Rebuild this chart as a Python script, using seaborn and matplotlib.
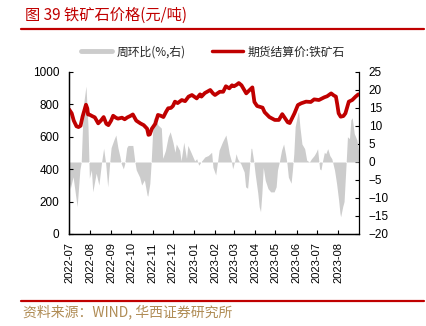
import matplotlib
matplotlib.use("Agg")
import matplotlib.pyplot as plt
from matplotlib.lines import Line2D
import seaborn as sns
import pandas as pd

# ---------------- data ----------------
price_dates = [
    "2022-07-01", "2022-07-05", "2022-07-08", "2022-07-12", "2022-07-15", "2022-07-18",
    "2022-07-21", "2022-07-26", "2022-07-28", "2022-07-29", "2022-08-01", "2022-08-04",
    "2022-08-08", "2022-08-13", "2022-08-17", "2022-08-21", "2022-08-25", "2022-08-28",
    "2022-09-01", "2022-09-04", "2022-09-08", "2022-09-11", "2022-09-17", "2022-09-21",
    "2022-09-25", "2022-09-29", "2022-10-03", "2022-10-08", "2022-10-14", "2022-10-19",
    "2022-10-24", "2022-10-26", "2022-10-28", "2022-10-31", "2022-11-05", "2022-11-09",
    "2022-11-13", "2022-11-17", "2022-11-21", "2022-11-24", "2022-11-28", "2022-12-01",
    "2022-12-04", "2022-12-08", "2022-12-14", "2022-12-19", "2022-12-24", "2022-12-29",
    "2023-01-05", "2023-01-10", "2023-01-12", "2023-01-17", "2023-01-25", "2023-01-29",
    "2023-02-01", "2023-02-08", "2023-02-13", "2023-02-17", "2023-02-22", "2023-02-26",
    "2023-03-01", "2023-03-05", "2023-03-08", "2023-03-12", "2023-03-19", "2023-03-24",
    "2023-03-28", "2023-03-31", "2023-04-04", "2023-04-12", "2023-04-15", "2023-04-22",
    "2023-04-30", "2023-05-06", "2023-05-11", "2023-05-19", "2023-05-22", "2023-05-29",
    "2023-06-03", "2023-06-08", "2023-06-15", "2023-06-22", "2023-06-27", "2023-07-04",
    "2023-07-12", "2023-07-16", "2023-07-22", "2023-07-26", "2023-07-29", "2023-07-31",
    "2023-08-02", "2023-08-05", "2023-08-09", "2023-08-12", "2023-08-17", "2023-08-22",
    "2023-08-27", "2023-08-31",
]
price_values = [
    770, 745, 700, 665, 660, 668,
    725, 798, 775, 738, 735, 728,
    720, 683, 700, 722, 680, 672,
    700, 730, 718, 712, 718, 708,
    720, 728, 738, 700, 683, 672,
    650, 612, 615, 650, 680, 735,
    730, 722, 755, 776, 778, 790,
    817, 808, 827, 820, 848, 858,
    837, 862, 848, 870, 889, 868,
    858, 878, 878, 912, 899, 918,
    912, 922, 932, 918, 868, 889,
    905, 815, 790, 780, 752, 722,
    704, 704, 740, 690, 685, 745,
    796, 807, 817, 815, 831, 827,
    844, 850, 868, 855, 848, 800,
    745, 724, 728, 745, 817, 827,
    848, 862,
]

chg_dates = [
    "2022-07-01", "2022-07-03", "2022-07-07", "2022-07-13", "2022-07-17", "2022-07-19",
    "2022-07-22", "2022-07-26", "2022-07-29", "2022-07-31", "2022-08-03", "2022-08-05",
    "2022-08-10", "2022-08-14", "2022-08-18", "2022-08-21", "2022-08-24", "2022-08-27",
    "2022-08-30", "2022-09-01", "2022-09-05", "2022-09-08", "2022-09-11", "2022-09-14",
    "2022-09-16", "2022-09-19", "2022-09-21", "2022-09-24", "2022-09-26", "2022-10-03",
    "2022-10-06", "2022-10-08", "2022-10-13", "2022-10-16", "2022-10-20", "2022-10-24",
    "2022-10-25", "2022-10-28", "2022-10-30", "2022-11-02", "2022-11-04", "2022-11-09",
    "2022-11-14", "2022-11-16", "2022-11-20", "2022-11-24", "2022-11-27", "2022-12-01",
    "2022-12-04", "2022-12-06", "2022-12-11", "2022-12-13", "2022-12-17", "2022-12-21",
    "2022-12-23", "2022-12-28", "2023-01-02", "2023-01-05", "2023-01-08", "2023-01-12",
    "2023-01-17", "2023-01-22", "2023-01-27", "2023-01-29", "2023-02-02", "2023-02-05",
    "2023-02-07", "2023-02-12", "2023-02-17", "2023-02-20", "2023-02-22", "2023-02-25",
    "2023-02-27", "2023-03-02", "2023-03-04", "2023-03-06", "2023-03-09", "2023-03-11",
    "2023-03-16", "2023-03-18", "2023-03-21", "2023-03-23", "2023-03-26", "2023-03-27",
    "2023-03-30", "2023-04-01", "2023-04-05", "2023-04-07", "2023-04-09", "2023-04-11",
    "2023-04-13", "2023-04-16", "2023-04-20", "2023-04-24", "2023-04-29", "2023-05-02",
    "2023-05-04", "2023-05-07", "2023-05-10", "2023-05-13", "2023-05-16", "2023-05-18",
    "2023-05-20", "2023-05-24", "2023-05-26", "2023-05-28", "2023-05-30", "2023-06-03",
    "2023-06-04", "2023-06-06", "2023-06-09", "2023-06-13", "2023-06-16", "2023-06-20",
    "2023-06-23", "2023-06-27", "2023-06-30", "2023-07-02", "2023-07-05", "2023-07-07",
    "2023-07-09", "2023-07-12", "2023-07-14", "2023-07-17", "2023-07-20", "2023-07-23",
    "2023-07-27", "2023-07-30", "2023-08-02", "2023-08-04", "2023-08-05", "2023-08-08",
    "2023-08-10", "2023-08-13", "2023-08-15", "2023-08-18", "2023-08-20", "2023-08-22",
    "2023-08-25", "2023-08-29", "2023-08-31",
]
chg_values = [
    -5.0, -7.3, -4.1, -12.4, -2.2, 0.0,
    15.4, 21.1, 9.8, -4.5, -2.2, -8.3,
    -3.1, -6.4, 0.0, 3.8, -0.4, -6.9,
    0.0, 4.0, 6.1, 7.5, 4.0, 1.5,
    -0.5, -1.9, -0.5, 4.0, 4.6, 4.6,
    0.0, -2.2, -4.2, -6.4, -5.0, -9.2,
    -9.5, -6.0, 0.0, 11.7, 12.5, 10.3,
    9.4, 1.0, 3.2, 7.0, 8.4, 5.5,
    2.7, 5.0, 3.2, 0.3, 5.5, 1.0,
    4.6, 2.5, 0.3, 0.9, -0.9, 0.2,
    1.4, 1.8, 2.7, -1.5, -3.6, 0.5,
    3.3, 5.6, 7.5, 4.6, 2.3, 0.3,
    -1.9, 0.3, 2.3, 1.0, 0.0, -0.5,
    -2.8, -6.9, -7.3, -3.2, 3.8, 3.8,
    0.2, -3.2, -8.7, -12.4, -13.8, -8.7,
    -1.5, -5.1, -7.4, -8.3, -8.3, -6.9,
    -2.2, 0.3, 3.3, 5.0, 2.0, -0.5,
    -4.2, -5.9, -2.2, 2.3, 9.8, 13.5,
    14.0, 9.8, 5.0, 3.7, 0.5, 0.0,
    0.9, 1.8, 2.8, 3.7, -1.9, -2.2,
    0.0, 2.7, 2.3, 3.7, 1.8, 0.9,
    -2.3, -6.0, -10.6, -14.3, -15.2, -12.4,
    -11.0, -0.5, 7.0, 6.5, 11.7, 12.3,
    7.9, 6.1, 3.2,
]

x_tick_labels = [
    "2022-07", "2022-08", "2022-09", "2022-10", "2022-11", "2022-12", "2023-01",
    "2023-02", "2023-03", "2023-04", "2023-05", "2023-06", "2023-07", "2023-08",
]
left_ticks = [0, 200, 400, 600, 800, 1000]
right_ticks = [-20, -15, -10, -5, 0, 5, 10, 15, 20, 25]

title_text = "图 39 铁矿石价格(元/吨)"
source_text = "资料来源：WIND, 华西证券研究所"
legend_labels = ["周环比(%,右)", "期货结算价:铁矿石"]

# ---------------- style ----------------
sns.set_style("white")
plt.rcParams["font.family"] = ["Liberation Sans", "Noto Sans CJK SC", "DejaVu Sans"]
plt.rcParams["axes.unicode_minus"] = True

RED = "#C00000"
GREY = "#CCCCCC"
GOLD = "#B08C55"
CJK = ["Noto Sans CJK SC", "DejaVu Sans"]

W, H = 426, 326
fig = plt.figure(figsize=(W / 100, H / 100), dpi=100)
ax1 = fig.add_axes([69 / W, 1 - 234 / H, 290 / W, 162 / H])
ax2 = ax1.twinx()

price_df = pd.DataFrame({"date": pd.to_datetime(price_dates), "price": price_values})
chg_df = pd.DataFrame({"date": pd.to_datetime(chg_dates), "chg": chg_values})

ax2.fill_between(chg_df["date"], 0, chg_df["chg"], color=GREY, lw=0)
sns.lineplot(data=price_df, x="date", y="price", ax=ax1, color=RED, lw=2.7)

ax1.set_zorder(ax2.get_zorder() + 1)
ax1.patch.set_visible(False)

ax1.set_xlim(pd.Timestamp("2022-07-01"), pd.Timestamp("2023-09-01"))
ax1.set_ylim(0, 1000)
ax1.set_yticks(left_ticks)
ax2.set_ylim(-20, 25)
ax2.set_yticks(right_ticks)
ax1.set_xticks(pd.to_datetime(x_tick_labels))
ax1.set_xticklabels(x_tick_labels, rotation=90)
ax1.set_xlabel("")
ax1.set_ylabel("")
ax2.set_ylabel("")

ax1.tick_params(axis="x", bottom=True, direction="in", length=3, width=0.8,
                labelsize=8, pad=6, colors="black")
ax1.tick_params(axis="y", left=True, direction="in", length=3, width=0.8,
                labelsize=8.5, pad=7, colors="black")
ax2.tick_params(axis="y", right=True, direction="in", length=3, width=0.8,
                labelsize=8.5, pad=7, colors="black")

for ax in (ax1, ax2):
    ax.spines["top"].set_visible(False)
    for s in ("left", "right", "bottom"):
        ax.spines[s].set_color("black")
        ax.spines[s].set_linewidth(0.9)
ax1.spines["right"].set_visible(False)

# title, rules, source
fig.text(25 / W, 1 - 15 / H, title_text, color=RED, fontsize=11, family=CJK,
         va="center", ha="left")
fig.add_artist(Line2D([21 / W, 424 / W], [1 - 29 / H] * 2, color=RED, lw=1.6))
fig.add_artist(Line2D([21 / W, 424 / W], [1 - 301 / H] * 2, color=RED, lw=1.6))
fig.text(23 / W, 1 - 312 / H, source_text, color=GOLD, fontsize=10, family=CJK,
         va="center", ha="left")

# legend
handles = [Line2D([], [], color=GREY, lw=3.5), Line2D([], [], color=RED, lw=2.5)]
fig.legend(handles, legend_labels, loc="center", bbox_to_anchor=(213 / W, 1 - 52 / H),
           ncol=2, frameon=False, prop={"family": CJK, "size": 8.5},
           handlelength=2.6, handletextpad=0.4, columnspacing=2.2)

fig.savefig("out.png", dpi=100)
